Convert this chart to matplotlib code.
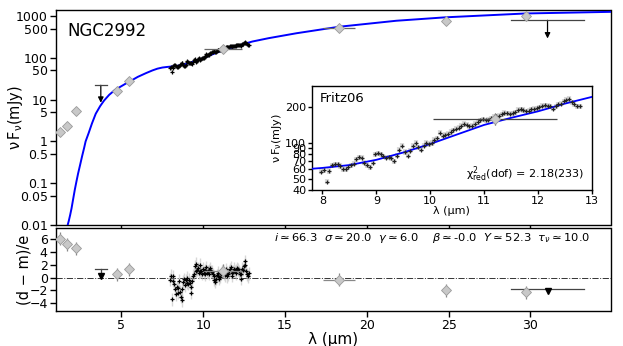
import numpy as np
import matplotlib
matplotlib.use('Agg')
import matplotlib.pyplot as plt
from matplotlib.ticker import NullLocator

plt.rcParams['mathtext.default'] = 'regular'

# ---------------- data ----------------
# photometric points (diamonds)
phot_wl = [1.25, 1.65, 2.2, 4.75, 5.45, 11.2, 18.3, 24.85, 29.75]
phot_flux = [1.7, 2.3, 5.4, 16.0, 28.0, 160.0, 510.0, 760.0, 1000.0]
phot_xerr = [0.0, 0.0, 0.0, 0.0, 0.0, 1.15, 0.95, 0.0, 0.0]
phot_res = [6.1, 5.2, 4.6, 0.5, 1.3, 1.1, -0.35, -2.0, -2.3]

# upper limits
ul_wl = [3.74, 31.05]
ul_flux = [22.0, 790.0]
ul_tip = [8.4, 290.0]
ul_xerr = [0.36, 2.25]
ul_res_bar = [1.3, -1.7]
ul_res_tri = [0.3, -2.1]

# spectrum (Fritz06)
spec_wl = np.round(np.arange(97) * 0.05 + 7.98, 2)
spec_flux = [57, 59, 47, 58,
             65, 66, 66, 64, 60, 60,
             62, 65, 67, 73, 76, 75,
             68, 65, 62, 68, 80, 82,
             80, 77, 75, 76, 74, 70,
             78, 88, 95, 84, 78, 86,
             95, 100, 92, 88, 95, 100,
             98, 100, 106, 110, 122, 115,
             117, 120, 124, 128, 132, 135,
             140, 145, 143, 138, 140, 145,
             150, 155, 158, 156, 157, 162,
             166, 168, 170, 175, 180, 178,
             177, 178, 182, 190, 192, 190,
             186, 188, 193, 195, 197, 200,
             206, 208, 207, 205, 195, 205,
             212, 215, 225, 232, 236, 222,
             212, 205, 205]
spec_res = [-0.3, 0.3, -3.4, 0.2,
            -0.5, -1.0, -1.8, -2.6, -1.5, -2.4,
            -1.6, -0.5, -2.2, -3.0, -3.5, -1.8,
            -0.6, -0.2, -1.2, -0.4, 0.0, -0.8,
            -1.0, -0.3, -0.8, -1.5, -2.4, -0.5,
            0.3, 0.6, 1.8, 1.0, 2.2, 1.2,
            1.5, 0.8, 1.0, 2.0, 1.0, 0.6,
            1.4, 0.8, 0.5, 1.2, 1.6, 0.8,
            1.0, 0.6, 1.2, 1.5, 1.0, 0.9,
            0.5, 0.2, -0.3, -0.6, -0.2, 0.4,
            0.8, 0.3, -0.2, 0.1, 0.6, 1.0,
            0.9, 1.2, 0.7, 0.4, 1.3, 0.8,
            0.2, 0.5, 1.0, 1.3, 1.6, 0.8,
            0.3, 0.9, 1.4, 1.0, 0.7, 1.2,
            1.5, 1.3, 1.0, 0.6, -0.2, 0.5,
            1.4, 1.2, 1.8, 2.6, 2.0, 1.0,
            0.5, 0.2, 0.7]

# model SED
model_wl = [1.0, 1.5, 1.6, 1.7, 1.78, 1.86, 1.95, 2.05, 2.15, 2.25, 2.35, 2.46,
            2.6, 2.72, 2.81, 2.9, 3.0, 3.2, 3.43, 3.7, 3.94, 4.25, 4.6, 5.0,
            5.3, 5.7, 6.0, 6.5, 6.9, 7.2, 7.5, 7.8, 8.0, 8.5, 9.0, 9.5, 10.0,
            10.5, 11.0, 11.5, 12.0, 12.5, 13.0, 14.0, 15.7, 18.3, 21.8,
            24.8, 29.7, 35.0]
model_flux = [1e-5, 0.003, 0.006, 0.0095, 0.0125, 0.017, 0.025, 0.042, 0.07,
              0.11, 0.17, 0.26, 0.45, 0.7, 1.0, 1.25, 1.6, 2.7, 4.6, 7.0, 9.5,
              13.0, 17.0, 21.0, 24.6, 30.0, 35.0, 43.0, 50.0, 55.0, 58.5, 60.5,
              61.5, 65.0, 72.0, 83.0, 98.0, 118.0, 142.0, 163.0, 185.0, 215.0,
              245.0, 295.0, 387.0, 553.0, 770.0, 930.0, 1150.0, 1260.0]

param_text = (r'$\mathit{i}\simeq66.3$  $\mathit{\sigma}\simeq20.0$  '
              r'$\mathit{\gamma}\simeq6.0$    $\mathit{\beta}\simeq$-0.0  '
              r'$\mathit{Y}\simeq52.3$  $\mathit{\tau_\nu}\simeq10.0$')

main_yticks = [0.01, 0.05, 0.1, 0.5, 1, 5, 10, 50, 100, 500, 1000]
main_yticklabels = ['0.01', '0.05', '0.1', '0.5', '1', '5', '10', '50', '100', '500', '1000']
inset_yticks = [40, 50, 60, 70, 80, 90, 100, 200]

# ---------------- figure ----------------
W, H = 623, 346
fig = plt.figure(figsize=(W / 100, H / 100), dpi=100)

def fr(l, t, r, b):
    return [l / W, 1 - b / H, (r - l) / W, (b - t) / H]

ax = fig.add_axes(fr(56, 10.3, 610.5, 225))
axr = fig.add_axes(fr(56, 228.3, 610.5, 311), sharex=ax)
axi = fig.add_axes(fr(311.7, 85.7, 591.7, 190))

dia_face = '#c8c8c8'
dia_edge = '#9a9a9a'
err_col = '#444444'
band_col = '#bdbdbd'

# ---- main panel ----
ax.set_yscale('log')
ax.plot(model_wl, model_flux, color='#0000ff', lw=1.4, zorder=3)
ax.errorbar(spec_wl, spec_flux, yerr=0.06 * np.array(spec_flux), fmt='none',
            ecolor=band_col, elinewidth=1.5, alpha=0.7, zorder=2)
ax.plot(spec_wl, spec_flux, ls='none', marker='+', ms=3, mew=0.9, color='k', zorder=4)
ax.errorbar(phot_wl, phot_flux, xerr=phot_xerr, yerr=0.12 * np.array(phot_flux),
            fmt='D', ms=5, mfc=dia_face, mec=dia_edge, mew=0.6,
            ecolor='#666666', elinewidth=0.9, capsize=0, zorder=5)
for x, y, t, xe in zip(ul_wl, ul_flux, ul_tip, ul_xerr):
    ax.plot([x - xe, x + xe], [y, y], color=err_col, lw=0.9, zorder=5)
    ax.annotate('', xy=(x, t), xytext=(x, y),
                arrowprops=dict(arrowstyle='-|>', color='k', lw=0.9,
                                mutation_scale=8, shrinkA=0, shrinkB=0))
ax.set_ylim(0.01, 1370)
ax.set_yticks(main_yticks)
ax.set_yticklabels(main_yticklabels)
ax.yaxis.set_minor_locator(NullLocator())
ax.set_xlim(1.0, 34.9)
ax.tick_params(axis='both', direction='out', length=4, width=1, labelsize=9, pad=2)
ax.tick_params(axis='x', labelbottom=False)
ax.set_ylabel(r'$\nu\,F_\nu(mJy)$', fontsize=10.5)
ax.yaxis.set_label_coords(-0.056, 0.5)
ax.text(0.02, 0.905, 'NGC2992', transform=ax.transAxes, fontsize=12,
        ha='left', va='center')

# ---- residual panel ----
axr.axhline(0, color='#333333', lw=0.7, ls='-.', zorder=1)
axr.errorbar(spec_wl, spec_res, yerr=1.0, fmt='none', ecolor=band_col,
             elinewidth=1.0, alpha=0.6, zorder=2)
axr.plot(spec_wl, spec_res, ls='none', marker='+', ms=3, mew=0.9, color='k', zorder=4)
axr.errorbar(phot_wl, phot_res, xerr=phot_xerr, yerr=1.0,
             fmt='D', ms=5, mfc=dia_face, mec=dia_edge, mew=0.6,
             ecolor='#888888', elinewidth=0.9, capsize=0, zorder=5)
for x, yb, yt, xe in zip(ul_wl, ul_res_bar, ul_res_tri, ul_xerr):
    axr.plot([x - xe, x + xe], [yb, yb], color=err_col, lw=0.9, zorder=5)
    axr.plot([x, x], [yb, yt], color=err_col, lw=0.9, zorder=5)
    axr.plot([x], [yt], marker='v', ms=5, color='k', ls='none', zorder=6)
axr.set_ylim(-5.2, 7.7)
axr.set_yticks([-4, -2, 0, 2, 4, 6])
axr.set_xticks([5, 10, 15, 20, 25, 30])
axr.tick_params(axis='both', direction='out', length=4, width=1, labelsize=9, pad=2)
axr.set_xlabel('λ (μm)', fontsize=11, labelpad=0)
axr.set_ylabel('(d − m)/e', fontsize=10.5)
axr.yaxis.set_label_coords(-0.045, 0.5)
axr.text(0.963, 0.88, param_text, transform=axr.transAxes, fontsize=8.25,
         ha='right', va='center')

# ---- inset ----
axi.set_yscale('log')
axi.plot(model_wl, model_flux, color='#0000ff', lw=1.3, zorder=3)
axi.errorbar(spec_wl, spec_flux, yerr=0.05 * np.array(spec_flux), fmt='none',
             ecolor=band_col, elinewidth=3.0, alpha=0.55, zorder=2)
axi.plot(spec_wl, spec_flux, ls='none', marker='+', ms=3.5, mew=0.9, color='#222222', zorder=4)
axi.errorbar([phot_wl[5]], [phot_flux[5]], xerr=[phot_xerr[5]],
             yerr=[0.12 * phot_flux[5]], fmt='D', ms=5, mfc=dia_face, mec=dia_edge,
             mew=0.6, ecolor='#444444', elinewidth=0.9, capsize=0, zorder=5)
axi.set_xlim(7.8, 13.0)
axi.set_ylim(40, 305)
axi.set_yticks(inset_yticks)
axi.set_yticklabels([str(v) for v in inset_yticks])
axi.yaxis.set_minor_locator(NullLocator())
axi.set_xticks([8, 9, 10, 11, 12, 13])
axi.tick_params(axis='both', direction='out', length=3, width=1, labelsize=8, pad=1)
axi.set_xlabel('λ (μm)', fontsize=8, labelpad=0)
axi.set_ylabel(r'$\nu\,F_\nu(mJy)$', fontsize=8, labelpad=1)
axi.text(0.03, 0.88, 'Fritz06', transform=axi.transAxes, fontsize=9.5, ha='left', va='center')
axi.text(0.975, 0.06, r'$\chi^2_{red}$(dof) = 2.18(233)', transform=axi.transAxes,
         fontsize=8, ha='right', va='bottom')

for a in (ax, axr, axi):
    for s in a.spines.values():
        s.set_linewidth(1.0)

fig.savefig('out.png', dpi=100)
